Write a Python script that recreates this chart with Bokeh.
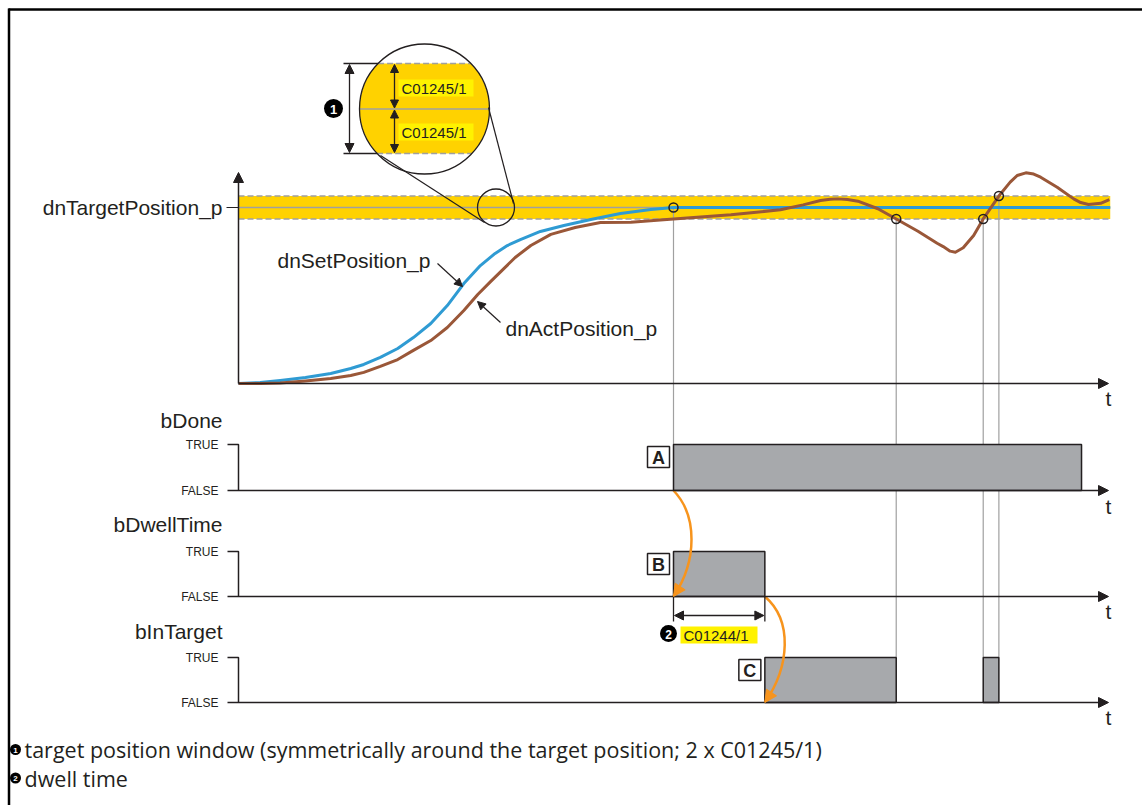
import numpy as np
from bokeh.plotting import figure
from bokeh.models import Range1d, Arrow, NormalHead
from bokeh.embed import file_html
from bokeh.resources import INLINE
from bokeh.core.properties import value

# ---------------- data (time in arbitrary units, position in % of target) ----------------
t_set = [0, 25, 48, 77, 106, 129, 144, 163, 183, 201, 221, 240, 259, 278, 295, 309, 324, 347,
         374, 405, 439, 474, 500, 1002]
pos_set = [0, 0.6, 1.7, 3.4, 5.7, 8.5, 10.8, 14.8, 19.9, 26.1, 34.1, 44.3, 56.8, 67.0, 73.9, 78.4,
           81.8, 86.4, 89.8, 93.2, 96.6, 98.9, 100, 100]

t_act = [0, 25, 48, 77, 106, 129, 144, 163, 183, 201, 221, 240, 259, 275, 290, 305, 318, 336,
         359, 387, 416, 451, 500, 566, 623, 649, 669, 680, 689, 700, 712, 735, 756, 781, 803,
         810, 818, 824, 833, 845, 856, 874, 887, 895, 905, 914, 922, 941, 960, 968, 977, 991, 1001]
pos_act = [0, 0, 0.3, 1.4, 2.8, 4.5, 6.3, 9.7, 13.6, 18.8, 24.4, 31.8, 41.5, 50.6, 58.0, 65.3, 71.6, 78.4,
           84.7, 88.6, 91.5, 91.6, 93.4, 95.9, 98.7, 101.5, 104.0, 104.7, 104.9, 104.5, 103.6, 99.3, 93.5,
           86.5, 79.7, 77.8, 75.2, 74.6, 77.1, 84.1, 93.5, 106.5, 114.4, 118.2, 119.7, 119.0, 117.2, 111.5,
           104.9, 102.8, 101.7, 102.4, 104.5]

target_position = 100
window = 6.5              # C01245/1
band_end = 1002
axis_end = 1000

event_t = [500, 756, 856, 874]
event_pos = [100, 93.5, 93.5, 106.5]
event_panel = ["done", "intarget", "intarget", "intarget"]

done_on, done_off = [500], [969]
dwell_on, dwell_off = [500], [605]
intarget_on, intarget_off = [605, 856], [756, 874]

signal_names = ["bDone", "bDwellTime", "bInTarget"]
level_true, level_false = "TRUE", "FALSE"
curve_labels = ["dnSetPosition_p", "dnActPosition_p"]
target_label = "dnTargetPosition_p"
window_param = "C01245/1"
dwell_param = "C01244/1"
footnotes = ["target position window (symmetrically around the target position; 2 x C01245/1)",
             "dwell time"]
box_letters = ["A", "B", "C"]

# ---------------- layout (page pixel coordinates) ----------------
W, H = 1142, 805
X0, XS = 238, 0.87
Y0, YS = 383, 1.76
panels = {"done": (490, 444), "dwell": (596, 551), "intarget": (702, 657)}
label_y = {"done": 420, "dwell": 524, "intarget": 631}
t_label_y = {"done": 506, "dwell": 611, "intarget": 717}

DARK = "#231F20"
GOLD = "#FFD200"
YEL = "#FFF200"
GREY = "#A0A0A0"
BLUE = "#2F9BD3"
BROWN = "#9A5738"
ORANGE = "#F7941D"
BAR = "#A7A9AC"
FONT = value("Liberation Sans")


def tx(t):
    return X0 + XS * t


def py(v):
    return Y0 - YS * v


p = figure(width=W, height=H, x_range=Range1d(0, W), y_range=Range1d(H, 0),
           output_backend="svg", toolbar_location=None,
           x_axis_location=None, y_axis_location=None, min_border=0)
p.outline_line_color = None
p.background_fill_color = "white"
p.border_fill_color = "white"
p.xgrid.grid_line_color = None
p.ygrid.grid_line_color = None
p.grid.visible = False

xr = {"time": Range1d(-X0 / XS, (W - X0) / XS)}
yr = {"pos": Range1d((Y0 - H) / YS, Y0 / YS)}
for name, (yF, yT) in panels.items():
    h = yF - yT
    yr[name] = Range1d((yF - H) / h, yF / h)
p.extra_x_ranges = xr
p.extra_y_ranges = yr


def arrow(x0, y0, x1, y1, size=10, both=False, color=DARK, lw=1.5):
    head = lambda: NormalHead(size=size, fill_color=color, line_color=color, line_width=1)
    p.add_layout(Arrow(x_start=x0, y_start=y0, x_end=x1, y_end=y1, line_color=color,
                       line_width=lw, end=head(), start=head() if both else None))


def txt(x, y, s, size="21px", align="left", color=DARK, style="normal", font=FONT):
    p.text(x=[x], y=[y], text=[s], text_font=font, text_font_size=size, text_align=align,
           text_baseline="middle", text_color=color, text_font_style=style)


def bullet(x, y, d, num, fs):
    p.scatter([x], [y], marker="circle", size=d, fill_color="black", line_color=None)
    txt(x, y + 0.5, num, size=fs, align="center", color="white", style="bold")


# border (left / top)
p.line([8.5, 8.5], [H, 8], line_color="black", line_width=2.5)
p.line([8, W], [9, 9], line_color="black", line_width=2.5)

# ---------------- top panel ----------------
p.quad(left=[0], right=[band_end], bottom=[target_position - window], top=[target_position + window],
       x_range_name="time", y_range_name="pos", fill_color=GOLD, line_color=None)
p.multi_line(xs=[[0, band_end], [0, band_end]],
             ys=[[target_position + window] * 2, [target_position - window] * 2],
             x_range_name="time", y_range_name="pos", line_color=GREY, line_width=1.5, line_dash="6 3")
p.line([0, band_end], [target_position] * 2, x_range_name="time", y_range_name="pos",
       line_color=GREY, line_width=1.5)

# guide lines from events down to the signal panels
p.segment(x0=event_t, y0=[py(v) for v in event_pos], x1=event_t,
          y1=[panels[k][1] for k in event_panel], x_range_name="time",
          line_color=GREY, line_width=1.2)

p.line(t_set, pos_set, x_range_name="time", y_range_name="pos", line_color=BLUE, line_width=3,
       line_join="round")
p.line(t_act, pos_act, x_range_name="time", y_range_name="pos", line_color=BROWN, line_width=3,
       line_join="round")
p.scatter(event_t, event_pos, x_range_name="time", y_range_name="pos", marker="circle", size=9,
          fill_color=None, line_color=DARK, line_width=1.5)

# axes
arrow(tx(0), py(0), tx(0), py(0) - 211)
arrow(tx(0), py(0), tx(axis_end), py(0))
p.line([tx(0) - 12, tx(0)], [py(target_position)] * 2, line_color=DARK, line_width=1.2)
txt(tx(0) - 16, py(target_position), target_label, align="right")
txt(tx(axis_end), py(0) + 15, "t", align="center")

# curve labels
txt(277, 260, curve_labels[0])
arrow(437, 263, 462, 286, size=8, lw=1.2)
txt(505, 328, curve_labels[1])
arrow(500, 322, 477, 301, size=8, lw=1.2)

# ---------------- magnifier ----------------
mx, my, mr = 424, 108.5, 65
wt, wb = 63, 153
p.ellipse(x=[mx], y=[my], width=[2 * mr], height=[2 * mr], fill_color=GOLD, line_color=None)
p.quad(left=[mx - mr - 3, mx - mr - 3], right=[mx + mr + 3, mx + mr + 3],
       top=[my - mr - 3, wb], bottom=[wt, my + mr + 3], fill_color="white", line_color=None)
for yy in (wt, wb):
    hw = np.sqrt(mr ** 2 - (my - yy) ** 2)
    p.line([mx - hw, mx + hw], [yy, yy], line_color=GREY, line_width=1.5, line_dash="6 3")
    p.line([343, mx - hw], [yy, yy], line_color=DARK, line_width=1.3)
p.line([mx - mr, mx + mr], [my, my], line_color=GREY, line_width=1.5)
p.quad(left=[398, 398], right=[473, 473], top=[79, 123], bottom=[96, 140], fill_color=YEL, line_color=None)
txt(401, 88, window_param, size="15px")
txt(401, 131.5, window_param, size="15px")
arrow(394, my - 1, 394, wt + 1, size=8, both=True, lw=1.3)
arrow(394, my + 1, 394, wb - 1, size=8, both=True, lw=1.3)
p.ellipse(x=[mx], y=[my], width=[2 * mr], height=[2 * mr], fill_color=None, line_color=DARK, line_width=1.3)
arrow(349, wt + 1, 349, wb - 1, size=9, both=True, lw=1.3)
bullet(333, 108, 19, "1", "13px")
p.line([380, 484], [155, 222], line_color=DARK, line_width=1.2)
p.line([488, 513], [107, 203], line_color=DARK, line_width=1.2)
p.ellipse(x=[495.5], y=[207], width=[37], height=[37], fill_color=None, line_color=DARK, line_width=1.3)

# ---------------- signal panels ----------------
bars = {"done": (done_on, done_off), "dwell": (dwell_on, dwell_off), "intarget": (intarget_on, intarget_off)}
for name, sig in zip(panels, signal_names):
    yF, yT = panels[name]
    p.line([tx(0) - 11, tx(0), tx(0)], [yT, yT, yF], line_color=DARK, line_width=1.5)
    arrow(tx(0) - 11, yF, tx(axis_end), yF)
    txt(218, yT, level_true, size="12px", align="right")
    txt(218, yF, level_false, size="12px", align="right")
    txt(222, label_y[name], sig, align="right")
    txt(tx(axis_end), t_label_y[name], "t", align="center")
    on, off = bars[name]
    p.quad(left=on, right=off, bottom=[0] * len(on), top=[1] * len(on), x_range_name="time",
           y_range_name=name, fill_color=BAR, line_color=DARK, line_width=1.5)

# A / B / C boxes
for letter, name, t0 in zip(box_letters, panels, [done_on[0], dwell_on[0], intarget_on[0]]):
    yF, yT = panels[name]
    cx, cy = tx(t0) - 15, yT + 12.5
    p.quad(left=[cx - 11], right=[cx + 11], top=[cy - 10.5], bottom=[cy + 10.5], fill_color="white",
           line_color=DARK, line_width=1.5)
    txt(cx, cy + 0.5, letter, size="18px", align="center", style="bold")

# orange cause arrows
xa, xb = tx(dwell_on[0]), tx(dwell_off[0])
p.bezier(x0=[xa], y0=[panels["done"][0]], x1=[xa], y1=[panels["dwell"][0]],
         cx0=[xa + 24], cy0=[515], cx1=[xa + 24], cy1=[560], line_color=ORANGE, line_width=2.5)
arrow(xa + 4, panels["dwell"][0] - 6, xa, panels["dwell"][0], size=12, color=ORANGE, lw=2.5)
p.bezier(x0=[xb], y0=[panels["dwell"][0]], x1=[xb], y1=[panels["intarget"][0]],
         cx0=[xb + 28], cy0=[620], cx1=[xb + 25], cy1=[666], line_color=ORANGE, line_width=2.5)
arrow(xb + 4, panels["intarget"][0] - 6, xb, panels["intarget"][0], size=12, color=ORANGE, lw=2.5)

# dwell-time dimension
dy = 615
p.segment(x0=[xa, xb], y0=[panels["dwell"][0]] * 2, x1=[xa, xb], y1=[dy + 6] * 2, line_color=DARK, line_width=1.3)
arrow(xa + 1, dy, xb - 1, dy, size=9, both=True, lw=1.3)
p.quad(left=[680], right=[757], top=[626], bottom=[643], fill_color=YEL, line_color=None)
txt(683, 634.5, dwell_param, size="15px")
bullet(668, 633, 17, "2", "12px")

# ---------------- footnotes ----------------
FN = value("Open Sans")
bullet(15, 749, 11, "1", "8px")
txt(24, 749, footnotes[0], size="21.5px", font=FN)
bullet(15, 777.5, 11, "2", "8px")
txt(24, 777.5, footnotes[1], size="21.5px", font=FN)

open("out.html", "w").write(file_html(p, INLINE))
